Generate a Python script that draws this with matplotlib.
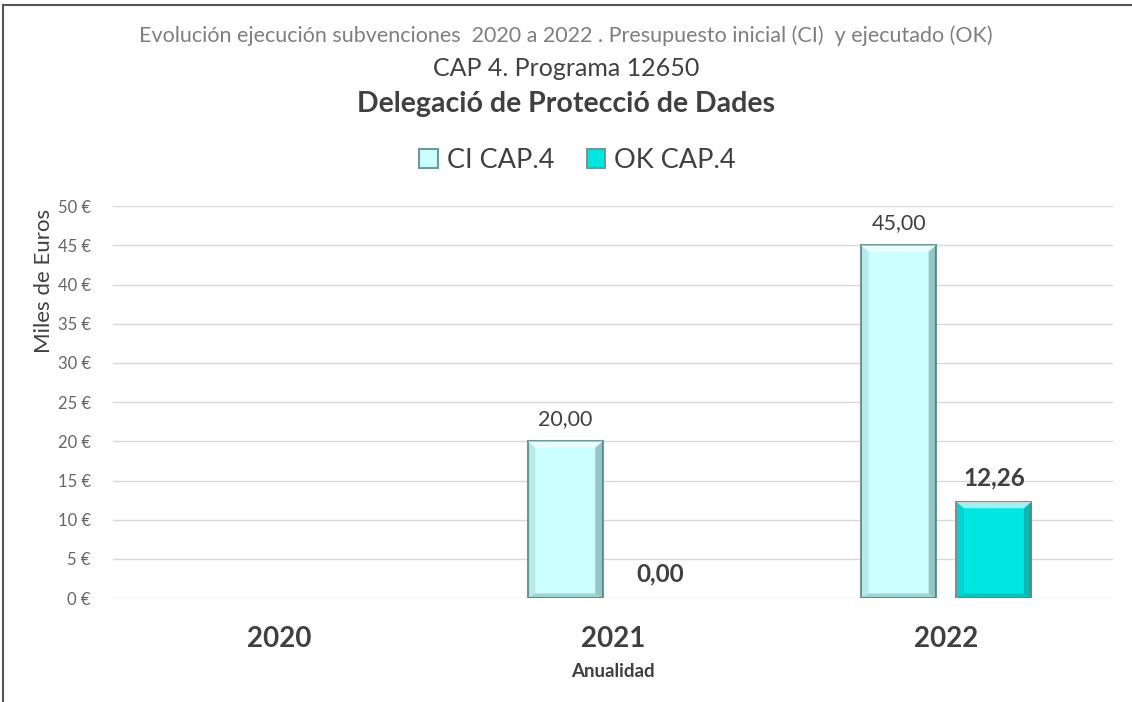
import matplotlib.pyplot as plt
from matplotlib.lines import Line2D
from matplotlib.ticker import FuncFormatter
import numpy as np

plt.rcParams['font.family'] = ['Lato', 'DejaVu Sans']

years = ["2020", "2021", "2022"]
ci_values = [0.0, 20.0, 45.0]
ok_values = [0.0, 0.0, 12.26]
ci_labels = ["", "20,00", "45,00"]
ok_labels = ["", "0,00", "12,26"]
series_names = ["CI CAP.4", "OK CAP.4"]

ci_color = "#ccffff"
ok_color = "#00e6e0"
edge = "#6f9a9a"

fig = plt.figure(figsize=(11.32, 7.02), dpi=100)
ax = fig.add_axes([0.0998, 0.148, 0.8834, 0.5584])

x = np.arange(len(years))
w = 0.225
off = 0.143

b1 = ax.bar(x - off, ci_values, w, color=ci_color, edgecolor=edge, linewidth=1.5, zorder=3)
b2 = ax.bar(x + off, ok_values, w, color=ok_color, edgecolor=edge, linewidth=1.5, zorder=3)

# rough bevel: light strip on top, dark strips on right side and bottom
for bars in (b1, b2):
    for r in bars:
        h = r.get_height()
        if h <= 0:
            r.set_linewidth(0)
            continue
        x0 = r.get_x()
        ww = r.get_width()
        ax.fill([x0, x0 + ww, x0 + ww * 0.9, x0 + ww * 0.1],
                [h, h, h - 0.8, h - 0.8], color="white", alpha=0.6, zorder=4, lw=0)
        ax.fill([x0, x0, x0 + ww * 0.1, x0 + ww * 0.1],
                [h, 0, 0.6, h - 0.8], color="#2f5a5a", alpha=0.12, zorder=4, lw=0)
        ax.fill([x0 + ww, x0 + ww, x0 + ww * 0.9, x0 + ww * 0.9],
                [h, 0, 0.6, h - 0.8], color="#2f5a5a", alpha=0.35, zorder=4, lw=0)
        ax.fill([x0, x0 + ww, x0 + ww * 0.9, x0 + ww * 0.1],
                [0, 0, 0.6, 0.6], color="#2f5a5a", alpha=0.25, zorder=4, lw=0)

for i in range(len(years)):
    if ci_labels[i]:
        ax.text(x[i] - off, ci_values[i] + 1.6, ci_labels[i], ha="center", va="bottom",
                fontsize=15.5, color="#404040", zorder=5)
    if ok_labels[i]:
        ax.text(x[i] + off, ok_values[i] + 1.6, ok_labels[i], ha="center", va="bottom",
                fontsize=17.5, color="#404040", fontweight="bold", zorder=5)

ax.set_xlim(-0.5, 2.5)
ax.set_ylim(0, 50)
ax.set_yticks(np.arange(0, 51, 5))
ax.yaxis.set_major_formatter(FuncFormatter(lambda v, p: "{:.0f} €".format(v)))
ax.grid(axis="y", color="#d9d9d9", linewidth=1, zorder=0)
ax.set_axisbelow(True)
for s in ax.spines.values():
    s.set_visible(False)
ax.tick_params(axis="y", length=0, labelsize=12, labelcolor="#666666", pad=16)
ax.tick_params(axis="x", length=0, pad=20)
ax.set_xticks(x)
ax.set_xticklabels(years, fontsize=20, fontweight="bold", color="#404040")
ax.set_xlabel("Anualidad", fontsize=13.5, fontweight="bold", color="#404040", labelpad=8)
ax.set_ylabel("Miles de Euros", fontsize=16, color="#404040")
ax.yaxis.set_label_coords(-0.059, 0.81)

fig.text(0.5, 1 - 36 / 702, "Evolución ejecución subvenciones  2020 a 2022 . Presupuesto inicial (CI)  y ejecutado (OK)",
         ha="center", va="center", fontsize=15.5, color="#7f7f7f")
fig.text(0.5, 1 - 69 / 702, "CAP 4. Programa 12650", ha="center", va="center", fontsize=18, color="#404040")
fig.text(0.5, 1 - 104 / 702, "Delegació de Protecció de Dades", ha="center", va="center",
         fontsize=20.5, fontweight="bold", color="#404040")

handles = [plt.Rectangle((0, 0), 1, 1, facecolor=ci_color, edgecolor=edge, linewidth=1.5),
           plt.Rectangle((0, 0), 1, 1, facecolor=ok_color, edgecolor=edge, linewidth=1.5)]
fig.legend(handles, series_names, loc="center", bbox_to_anchor=(0.51, 1 - 160 / 702), ncol=2,
           frameon=False, fontsize=19.5, labelcolor="#404040", handlelength=0.7, handleheight=0.7,
           handletextpad=0.3, columnspacing=1.2)

# outer frame (top and left edges visible in the original)
fig.add_artist(Line2D([3 / 1132, 3 / 1132], [0, 1 - 5 / 702], transform=fig.transFigure, color="#555555", lw=1.5))
fig.add_artist(Line2D([3 / 1132, 1], [1 - 5 / 702, 1 - 5 / 702], transform=fig.transFigure, color="#555555", lw=1.5))

fig.savefig("out.png", dpi=100)
